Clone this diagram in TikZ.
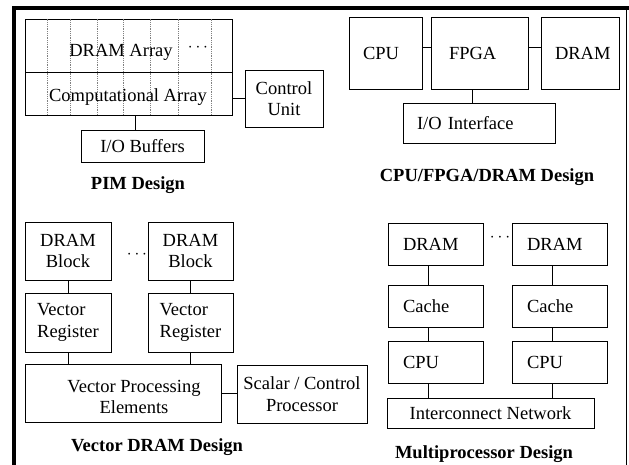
\documentclass[tikz,border=0pt]{standalone}
\usepackage{fontspec}
\setmainfont{Liberation Serif}
\newcommand\dfont{\fontsize{18.5}{21.5}\selectfont}
\begin{document}
\begin{tikzpicture}[x=1pt,y=-1pt,font=\dfont,
  box/.style={draw, line width=0.9pt, inner sep=0pt, align=center},
  lbox/.style={box, align=left},
  txt/.style={inner sep=0pt, align=center},
  title/.style={inner sep=0pt, font=\dfont\bfseries},
  conn/.style={line width=0.9pt},
  grid/.style={gray, densely dotted, line width=0.8pt}]
\useasboundingbox (0,0) rectangle (629,465);
% frame
\draw[line width=4pt] (14,465) -- (14,8) -- (629,8);
\draw[line width=1.5pt] (626.5,8) -- (626.5,465);

% ---------- PIM Design ----------
\node[box, minimum width=207pt, minimum height=53pt] (dramarr) at (128.5,45.5) {};
\node[box, minimum width=207pt, minimum height=43pt] (comparr) at (128.5,93.5) {};
\foreach \x in {47,70,97,123,150,178,211}
  \draw[grid] (dramarr.north -| \x,0) -- (comparr.south -| \x,0);
\node[txt] (dramtxt) at (121,52) {DRAM Array};
\node[txt] (dramdots) at (198,48) {$\cdots$};
\node[txt] (comptxt) at (128,97) {Computational Array};
\node[box, minimum width=78pt, minimum height=57pt] (ctrl) at (284,98.5) {Control\\Unit};
\node[box, minimum width=123pt, minimum height=32pt] (iobuf) at (142.5,146) {I/O Buffers};
\draw[conn] (comparr.east |- ctrl.west) -- (ctrl.west);
\draw[conn] ([xshift=-7.5pt]iobuf.north) -- ([xshift=-7.5pt]iobuf.north |- comparr.south);
\node[title] (pimt) at (138,185) {PIM Design};

% ---------- CPU/FPGA/DRAM Design ----------
\node[lbox, minimum width=73pt, minimum height=72pt, text width=45pt] (cpu) at (385.5,53) {CPU};
\node[lbox, minimum width=97pt, minimum height=72pt, text width=61pt] (fpga) at (479.5,53) {FPGA};
\node[lbox, minimum width=78pt, minimum height=72pt, text width=50pt] (dram) at (580,53) {DRAM};
\node[lbox, minimum width=152pt, minimum height=40pt, text width=124pt] (ioif) at (479,123) {I/O Interface};
\draw[conn] ([yshift=6pt]cpu.east) -- ([yshift=6pt]cpu.east -| fpga.west);
\draw[conn] ([yshift=6pt]fpga.east) -- ([yshift=6pt]fpga.east -| dram.west);
\draw[conn] ([xshift=-7.5pt]fpga.south) -- ([xshift=-7.5pt]fpga.south |- ioif.north);
\node[title] (cfdt) at (487,177) {CPU/FPGA/DRAM Design};

% ---------- Vector DRAM Design ----------
\node[box, minimum width=86pt, minimum height=58pt] (db1) at (68,251) {DRAM\\Block};
\node[box, minimum width=85pt, minimum height=58pt] (db2) at (190.5,251) {DRAM\\Block};
\node[txt] (vdots) at (137,255) {$\cdots$};
\node[lbox, minimum width=86pt, minimum height=59pt] (vr1) at (68,322.5) {Vector\\Register};
\node[lbox, minimum width=85pt, minimum height=59pt] (vr2) at (190.5,322.5) {Vector\\Register};
\node[box, minimum width=196pt, minimum height=58pt] (vpe) at (123,393) {};
\node[txt] (vpetxt) at (134,397) {Vector Processing\\Elements};
\node[box, minimum width=130pt, minimum height=58pt] (scp) at (302,394) {Scalar / Control\\Processor};
\draw[conn] (db1.south) -- (vr1.north);
\draw[conn] (db2.south) -- (vr2.north);
\draw[conn] (vr1.south) -- (vr1.south |- vpe.north);
\draw[conn] (vr2.south) -- (vr2.south |- vpe.north);
\draw[conn] (vpe.east) -- (vpe.east -| scp.west);
\node[title] (vdt) at (157,447) {Vector DRAM Design};

% ---------- Multiprocessor Design ----------
\node[lbox, minimum width=95pt, minimum height=42pt, text width=65pt] (m1) at (435.5,244) {DRAM};
\node[lbox, minimum width=95pt, minimum height=42pt, text width=65pt] (m2) at (559.5,244) {DRAM};
\node[txt] (mdots) at (500,238) {$\cdots$};
\node[lbox, minimum width=95pt, minimum height=42pt, text width=65pt] (c1) at (435.5,306) {Cache};
\node[lbox, minimum width=95pt, minimum height=42pt, text width=65pt] (c2) at (559.5,306) {Cache};
\node[lbox, minimum width=95pt, minimum height=42pt, text width=65pt] (p1) at (435.5,362.5) {CPU};
\node[lbox, minimum width=95pt, minimum height=42pt, text width=65pt] (p2) at (559.5,362.5) {CPU};
\node[box, minimum width=207pt, minimum height=30pt] (net) at (490.5,413) {Interconnect Network};
\draw[conn] ([xshift=-7.5pt]m1.south) -- ([xshift=-7.5pt]c1.north);
\draw[conn] ([xshift=-7.5pt]c1.south) -- ([xshift=-7.5pt]p1.north);
\draw[conn] ([xshift=-7.5pt]p1.south) -- ([xshift=-7.5pt]p1.south |- net.north);
\draw[conn] ([xshift=-7.5pt]m2.south) -- ([xshift=-7.5pt]c2.north);
\draw[conn] ([xshift=-7.5pt]c2.south) -- ([xshift=-7.5pt]p2.north);
\draw[conn] ([xshift=-7.5pt]p2.south) -- ([xshift=-7.5pt]p2.south |- net.north);
\node[title] (mpt) at (484,454) {Multiprocessor Design};
\end{tikzpicture}
\end{document}
